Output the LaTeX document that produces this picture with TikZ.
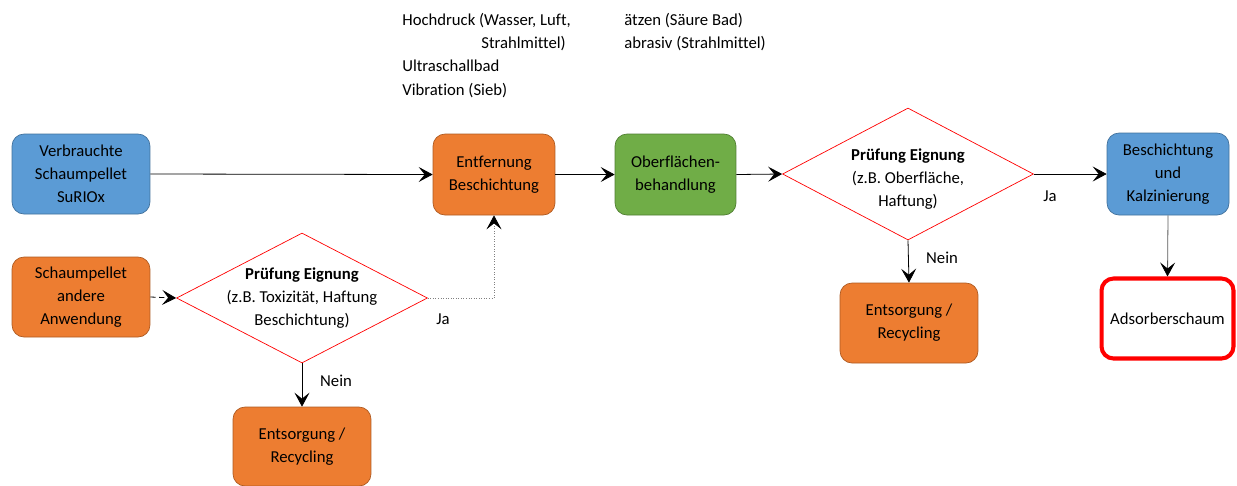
\documentclass[tikz,border=0pt]{standalone}
\usepackage{fontspec}
\setmainfont{Carlito}[Ligatures={NoCommon}]
\usepackage{xcolor}
\usepackage{tikz}
\usetikzlibrary{positioning}
\usetikzlibrary{shapes.geometric}
\usetikzlibrary{arrows.meta}
\definecolor{boxblue}{HTML}{5B9BD5}
\definecolor{boxblueline}{HTML}{41719C}
\definecolor{boxorange}{HTML}{ED7D31}
\definecolor{boxorangeline}{HTML}{AE5A21}
\definecolor{boxgreen}{HTML}{70AD47}
\definecolor{boxgreenline}{HTML}{507E32}

\begin{document}
\begin{tikzpicture}
  [
    x=0.02cm, y=-0.02cm,
    font=\fontsize{9.5}{13}\selectfont,
    cell/.style={
      rounded corners=2.4mm,
      align=center,
      inner sep=1mm,
      minimum width=2.76cm,
      minimum height=1.6cm
    },
    cellblue/.style={cell, fill=boxblue, draw=boxblueline},
    cellorange/.style={cell, fill=boxorange, draw=boxorangeline},
    cellgreen/.style={cell, fill=boxgreen, draw=boxgreenline},
    check/.style={
      diamond,
      draw=red,
      fill=white,
      inner sep=0pt,
      minimum width=5.02cm,
      minimum height=2.6cm
    },
    ld/.style={-{Stealth[length=2.8mm,width=3mm,inset=1.2mm,color=black]}, line width=0.45pt},
    note/.style={anchor=base west, inner sep=0pt}
  ]
  \useasboundingbox (0,0) rectangle (1237,485);

  \node (verb)  at (81,174)    [cellblue]   {Verbrauchte\\Schaumpellet\\SuRIOx};
  \node (entf)  at (494,174.5) [cellorange, minimum width=2.44cm, minimum height=1.62cm] {Entfernung\\Beschichtung};
  \node (ober)  at (675.5,174.5) [cellgreen, minimum width=2.42cm, minimum height=1.62cm] {Oberflächen-\\behandlung};
  \node (besch) at (1168,174)  [cellblue, minimum width=2.44cm, minimum height=1.64cm] {Beschichtung\\und\\Kalzinierung};
  \node (ads)   at (1167.5,318.5) [cell, draw=red, fill=white, line width=2.3pt, minimum width=2.64cm] {Adsorberschaum};

  \node (schaum) at (81,297)    [cellorange] {Schaumpellet\\andere\\Anwendung};
  \node (ents1)  at (302,446.5) [cellorange, minimum height=1.58cm] {Entsorgung /\\Recycling};
  \node (ents2)  at (909,323)   [cellorange] {Entsorgung /\\Recycling};

  \node (pruef1) at (302,298) [check,
    label={[align=center]center:{\textbf{Prüfung Eignung}\\(z.B. Toxizität, Haftung\\Beschichtung)}}] {};
  \node (pruef2) at (908,174) [check, minimum height=2.64cm,
    label={[align=center, yshift=-1mm]center:{\textbf{Prüfung Eignung}\\(z.B. Oberfläche,\\Haftung)}}] {};

  % methods above the removal step
  \node (m1) at (402,25) [note] {Hochdruck (Wasser, Luft,};
  \node (m2) at (481,48) [note] {Strahlmittel)};
  \node (m3) at (402,71) [note] {Ultraschallbad};
  \node (m4) at (402,95) [note] {Vibration (Sieb)};
  \node (v1) at (624,25) [note] {ätzen (Säure Bad)};
  \node (v2) at (624,48) [note] {abrasiv (Strahlmittel)};

  \node (ja1)   at (443,319) {Ja};
  \node (nein1) at (336,381) {Nein};
  \node (ja2)   at (1050,196) {Ja};
  \node (nein2) at (942,258) {Nein};

  \draw [ld] (verb.east) -- (entf.west);
  \draw [ld] (entf.east) -- (ober.west);
  \draw [ld] (ober.east) -- (pruef2.west);
  \draw [ld] (pruef2.east) -- (besch.west);
  \draw [ld] (pruef2.south) -- (ents2.north);
  \draw [ld, draw=gray!70!black] (besch.south) -- (ads.north);
  \draw [ld, densely dashed] (schaum.east) -- (pruef1.west);
  \draw [ld, densely dotted, draw=gray] (pruef1.east) -| (entf.south);
  \draw [ld] (pruef1.south) -- (ents1.north);
\end{tikzpicture}
\end{document}
